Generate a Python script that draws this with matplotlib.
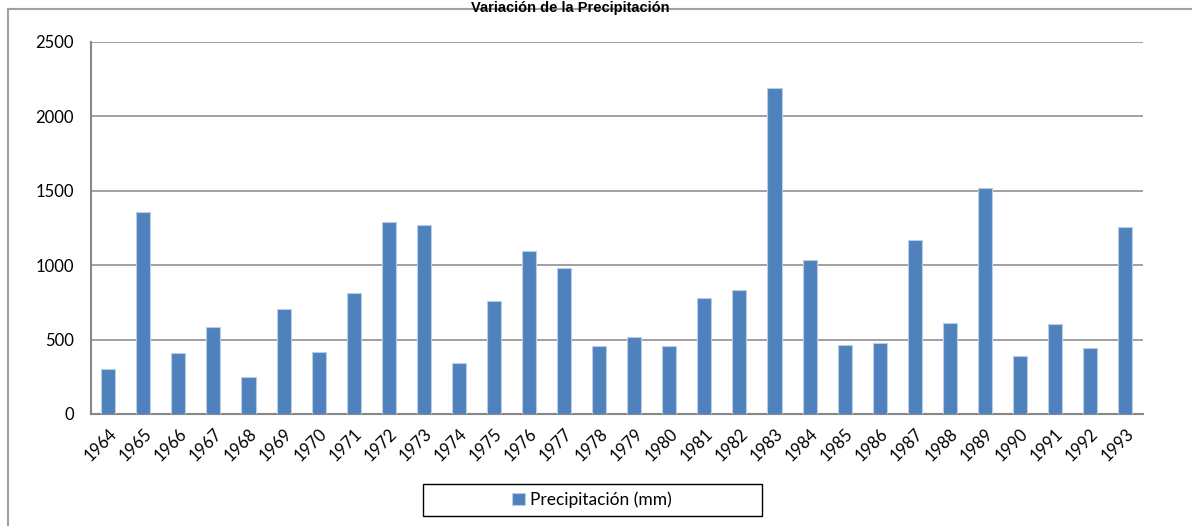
import matplotlib
matplotlib.use("Agg")
import matplotlib.pyplot as plt
from matplotlib.lines import Line2D
from matplotlib.patches import Rectangle

years = ["1964", "1965", "1966", "1967", "1968", "1969", "1970", "1971", "1972", "1973",
         "1974", "1975", "1976", "1977", "1978", "1979", "1980", "1981", "1982", "1983",
         "1984", "1985", "1986", "1987", "1988", "1989", "1990", "1991", "1992", "1993"]
precip = [299, 1355, 411, 587, 246, 703, 413, 810, 1290, 1270,
          341, 759, 1092, 982, 455, 516, 458, 779, 833, 2187,
          1033, 464, 480, 1167, 612, 1520, 391, 605, 440, 1254]
yticks = [0, 500, 1000, 1500, 2000, 2500]

W, H = 1192, 526
fig = plt.figure(figsize=(W / 100, H / 100), dpi=100)
ax = fig.add_axes([90.7 / W, 1 - 414 / H, (1142.7 - 90.7) / W, (414 - 41.7) / H])

font = "Lato"
x = list(range(len(years)))
ax.bar(x, precip, width=0.4, color="#4F81BD", edgecolor="#B9CDE5", linewidth=0.8,
       label="Precipitación (mm)", zorder=3)
ax.set_xlim(-0.5, len(years) - 0.5)
ax.set_ylim(0, 2500)
ax.set_yticks(yticks)
ax.set_yticklabels([str(v) for v in yticks], fontsize=12, family=font)
ax.set_xticks(x)
ax.set_xticklabels(years, rotation=45, ha="right", rotation_mode="anchor",
                   fontsize=12, family=font)
ax.tick_params(axis="both", length=0)
ax.tick_params(axis="y", pad=12)
ax.tick_params(axis="x", pad=8)
ax.yaxis.grid(True, color="#9A9A9A", linewidth=1.3, zorder=0)
ax.set_axisbelow(True)
for s in ["top", "right"]:
    ax.spines[s].set_visible(False)
for s in ["left", "bottom"]:
    ax.spines[s].set_color("#878787")
    ax.spines[s].set_linewidth(1.5)

# legend with a wide box like the reference
leg = ax.legend(loc="center", bbox_to_anchor=((592 - 90.7) / (1142.7 - 90.7), (414 - 500) / (414 - 41.7)),
                frameon=False, prop={"family": font, "size": 12.5},
                handlelength=0.7, handleheight=0.7, handletextpad=0.3)
fig.add_artist(Rectangle((423 / W, 1 - 516 / H), (762 - 423) / W, (516 - 484) / H,
                         transform=fig.transFigure, fill=False, edgecolor="#000000",
                         linewidth=1.0))

# outer chart border (partially visible)
fig.add_artist(Line2D([8 / W, 8 / W], [1 - 9 / H, 0], color="#A0A0A0", linewidth=1.5,
                      transform=fig.transFigure))
fig.add_artist(Line2D([8 / W, 1], [1 - 9 / H, 1 - 9 / H], color="#A0A0A0", linewidth=1.5,
                      transform=fig.transFigure))

fig.text(570 / W, 1 - 1 / H, "Variación de la Precipitación", ha="center", va="top",
         fontsize=10.5, fontweight="bold", family="Liberation Sans")

fig.savefig("out.png", dpi=100)
